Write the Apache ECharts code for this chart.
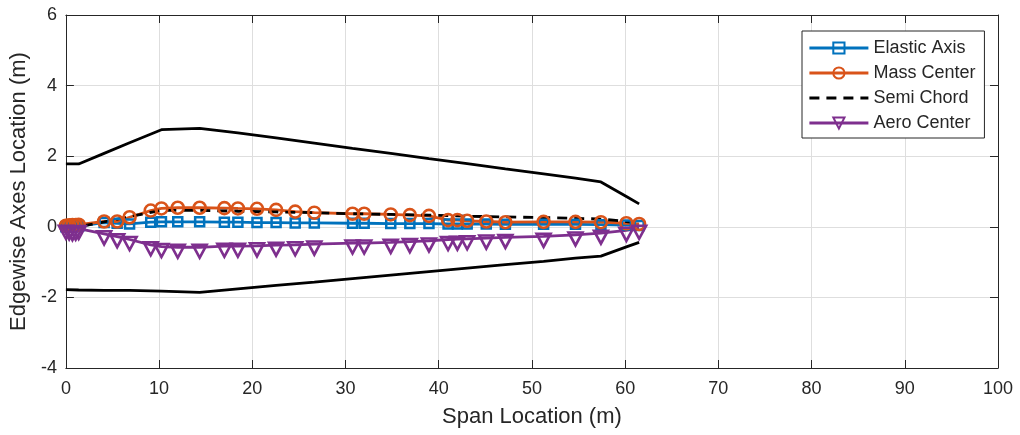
<!DOCTYPE html>
<html>
<head>
<meta charset="utf-8">
<script src="https://cdn.jsdelivr.net/npm/echarts@6/dist/echarts.min.js"></script>
<style>
html,body{margin:0;padding:0;background:#fff;}
#chart{width:1020px;height:435px;}
</style>
</head>
<body>
<div id="chart"></div>
<script>
// ---- data ----
const stationX = [0, 0.35, 0.7, 1.05, 1.37, 4.1, 5.5, 6.83, 9.1, 10.25, 12.0, 14.35, 17.0, 18.45, 20.5, 22.55, 24.6, 26.65, 30.75, 32.0, 34.85, 36.9, 38.95, 41.0, 42.0, 43.05, 45.1, 47.15, 51.25, 54.67, 57.4, 60.13, 61.5];
const elasticAxis = [0, 0, 0.01, 0.01, 0.02, 0.12, 0.1, 0.08, 0.13, 0.14, 0.14, 0.14, 0.13, 0.13, 0.12, 0.12, 0.11, 0.11, 0.1, 0.1, 0.09, 0.09, 0.09, 0.08, 0.08, 0.08, 0.08, 0.07, 0.07, 0.07, 0.06, 0.05, 0.04];
const massCenter = [0.03, 0.04, 0.05, 0.05, 0.06, 0.15, 0.15, 0.27, 0.46, 0.52, 0.54, 0.54, 0.53, 0.52, 0.51, 0.48, 0.43, 0.40, 0.37, 0.37, 0.35, 0.33, 0.31, 0.19, 0.19, 0.17, 0.15, 0.13, 0.14, 0.14, 0.13, 0.10, 0.08];
const aeroCenter = [-0.04, -0.06, -0.08, -0.07, -0.05, -0.2, -0.28, -0.36, -0.51, -0.56, -0.58, -0.58, -0.55, -0.55, -0.54, -0.52, -0.51, -0.49, -0.46, -0.46, -0.44, -0.42, -0.40, -0.36, -0.35, -0.34, -0.32, -0.30, -0.27, -0.23, -0.18, -0.10, -0.04];

const outlineX = [0, 1.37, 4.1, 6.83, 10.25, 14.35, 18.45, 22.55, 26.65, 30.75, 34.85, 38.95, 43.05, 47.15, 51.25, 54.67, 57.4, 60.13, 61.5];
const upperEdge = [1.78, 1.78, 2.08, 2.38, 2.75, 2.79, 2.66, 2.52, 2.37, 2.22, 2.08, 1.93, 1.79, 1.64, 1.50, 1.38, 1.27, 0.86, 0.65];
const lowerEdge = [-1.78, -1.79, -1.80, -1.80, -1.82, -1.86, -1.76, -1.66, -1.57, -1.47, -1.37, -1.27, -1.17, -1.07, -0.98, -0.89, -0.83, -0.57, -0.44];
const semiChord = [0, 0, 0.14, 0.29, 0.465, 0.465, 0.44, 0.42, 0.40, 0.37, 0.35, 0.33, 0.30, 0.28, 0.26, 0.24, 0.22, 0.15, 0.105];

const seriesNames = ['Elastic Axis', 'Mass Center', 'Semi Chord', 'Aero Center'];
const xName = 'Span Location (m)';
const yName = 'Edgewise Axes Location (m)';

const zip = (xs, ys) => xs.map((x, i) => [x, ys[i]]);

const txt = '#262626';
const font = 'Liberation Sans, Arial, Helvetica, sans-serif';
const clear = 'rgba(255,255,255,0)';

const chart = echarts.init(document.getElementById('chart'), null, {renderer: 'canvas'});

const baseAxisX = {type: 'value', min: 0, max: 100, interval: 10};
const baseAxisY = {type: 'value', min: -4, max: 6, interval: 2};
const frameLine = {show: true, onZero: false, lineStyle: {color: txt, width: 1}};
const frameTick = {show: true, inside: true, length: 8, lineStyle: {color: txt}};

chart.setOption({
  animation: false,
  backgroundColor: '#fff',
  grid: {left: 65, top: 15, width: 933, height: 353, show: false},
  legend: {
    data: seriesNames,
    orient: 'vertical',
    left: 802, top: 31,
    padding: [8, 9, 6, 6],
    itemWidth: 59, itemHeight: 14, itemGap: 7,
    borderColor: txt, borderWidth: 1,
    backgroundColor: '#fff',
    lineStyle: {width: 2.8},
    textStyle: {fontFamily: font, fontSize: 18, color: txt}
  },
  xAxis: [
    Object.assign({}, baseAxisX, {
      position: 'bottom',
      name: xName, nameLocation: 'middle', nameGap: 38,
      nameTextStyle: {fontFamily: font, fontSize: 22, color: txt},
      axisLine: frameLine, axisTick: frameTick,
      axisLabel: {fontFamily: font, fontSize: 18, color: txt, margin: 12},
      splitLine: {show: true, lineStyle: {color: '#dedede', width: 1}}
    }),
    Object.assign({}, baseAxisX, {
      position: 'top',
      axisLine: frameLine, axisTick: frameTick,
      axisLabel: {show: false},
      splitLine: {show: false}
    })
  ],
  yAxis: [
    Object.assign({}, baseAxisY, {
      position: 'left',
      name: yName, nameLocation: 'middle', nameGap: 34,
      nameTextStyle: {fontFamily: font, fontSize: 22, color: txt},
      axisLine: frameLine, axisTick: frameTick,
      axisLabel: {fontFamily: font, fontSize: 18, color: txt, margin: 9},
      splitLine: {show: true, lineStyle: {color: '#dedede', width: 1}}
    }),
    Object.assign({}, baseAxisY, {
      position: 'right',
      axisLine: frameLine, axisTick: frameTick,
      axisLabel: {show: false},
      splitLine: {show: false}
    })
  ],
  series: [
    {
      name: 'upper', type: 'line', data: zip(outlineX, upperEdge),
      symbol: 'none', silent: true,
      lineStyle: {color: '#000', width: 2.8}
    },
    {
      name: 'lower', type: 'line', data: zip(outlineX, lowerEdge),
      symbol: 'none', silent: true,
      lineStyle: {color: '#000', width: 2.8}
    },
    {
      name: seriesNames[0], type: 'line', data: zip(stationX, elasticAxis),
      symbol: 'rect', symbolSize: 9,
      itemStyle: {color: clear, borderColor: '#0072BD', borderWidth: 2.5},
      lineStyle: {color: '#0072BD', width: 2.8}
    },
    {
      name: seriesNames[1], type: 'line', data: zip(stationX, massCenter),
      symbol: 'circle', symbolSize: 12,
      itemStyle: {color: clear, borderColor: '#D95319', borderWidth: 2.6},
      lineStyle: {color: '#D95319', width: 2.8}
    },
    {
      name: seriesNames[2], type: 'line', data: zip(outlineX, semiChord),
      symbol: 'circle', symbolSize: 0, showSymbol: false,
      itemStyle: {color: clear, borderColor: clear, borderWidth: 0},
      lineStyle: {color: '#000', width: 2.8, type: [10, 7]}
    },
    {
      name: seriesNames[3], type: 'line', data: zip(stationX, aeroCenter),
      symbol: 'path://M0,0 L10,0 L5,9 Z', symbolSize: [14, 13], symbolOffset: [0, 4],
      itemStyle: {color: clear, borderColor: '#7E2F8E', borderWidth: 2.6},
      lineStyle: {color: '#7E2F8E', width: 2.8}
    }
  ]
});
</script>
</body>
</html>
